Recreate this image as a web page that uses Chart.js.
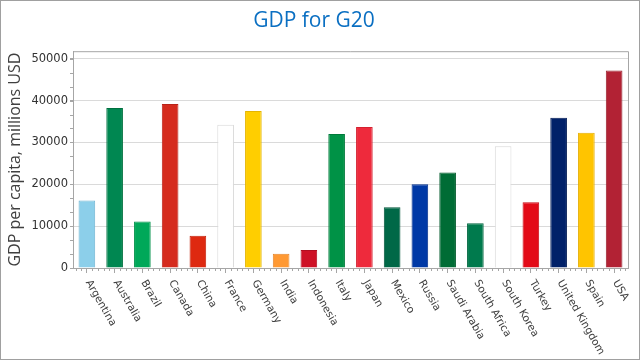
<!DOCTYPE html>
<html>
<head>
<meta charset="utf-8">
<script src="https://cdn.jsdelivr.net/npm/chart.js@4"></script>
<style>
  html, body { margin: 0; padding: 0; background: #fff; }
</style>
</head>
<body>
<canvas id="Chart_GDP" width="640" height="360"></canvas>
<script>
// données
const countries = ['Argentina', 'Australia', 'Brazil', 'Canada', 'China', 'France', 'Germany', 'India',
    'Indonesia', 'Italy', 'Japan', 'Mexico', 'Russia', 'Saudi Arabia', 'South Africa', 'South Korea',
    'Turkey', 'United Kingdom', 'Spain', 'USA'];
const gdpPerCapita = [16100, 38200, 11100, 39200, 7700, 34200, 37500, 3400, 4300, 32000,
    33700, 14500, 20000, 22800, 10700, 29100, 15700, 35900, 32300, 47200];
const yTicks = [0, 10000, 20000, 30000, 40000, 50000];

// couleurs des barres
const fillColors = ['#8ccfea', '#008751', '#00a859', '#d52b1e', '#de2910', '#ffffff', '#ffce00', '#ff9933',
    '#ce1126', '#009246', '#ee2a3c', '#006847', '#0039a6', '#006c35', '#007a4d', '#ffffff',
    '#e30a17', '#012169', '#ffc400', '#b22234'];
const lineColors = ['#6fb3d2', '#00703f', '#009049', '#b92318', '#c2230d', '#d9d9d9', '#e5b500', '#e5852a',
    '#b00e20', '#007a3a', '#d4202f', '#00553a', '#002f8c', '#00592b', '#00663f', '#d9d9d9',
    '#c80812', '#011a55', '#e5ae00', '#98202d'];

const axisGray = '#a6a6a6';
const labelFont = 'DejaVu Sans';

// ticks secondaires + libellés inclinés + cadre
const decorPlugin = {
    id: 'decor',
    afterDraw(chart) {
        const ctx = chart.ctx;
        const area = chart.chartArea;
        const x = chart.scales.x;
        const y = chart.scales.y;
        ctx.save();
        ctx.strokeStyle = axisGray;
        ctx.lineWidth = 1;
        // cadre du graphe (haut et droite)
        ctx.beginPath();
        ctx.moveTo(area.left, area.top + 0.5);
        ctx.lineTo(area.right + 0.5, area.top + 0.5);
        ctx.lineTo(area.right + 0.5, area.bottom);
        ctx.stroke();
        // ticks secondaires Y
        ctx.beginPath();
        for (let v = 0; v <= y.max; v += 10000 / 3) {
            const py = Math.round(y.getPixelForValue(v)) + 0.5;
            ctx.moveTo(area.left - 3, py);
            ctx.lineTo(area.left, py);
        }
        // ticks secondaires X
        const step = x.getPixelForValue(1) - x.getPixelForValue(0);
        for (let i = -1; i < countries.length; i++) {
            for (let k = 1; k < 5; k++) {
                const px = x.getPixelForValue(i) + step * k / 5;
                if (px < area.left || px > area.right) continue;
                ctx.moveTo(Math.round(px) + 0.5, area.bottom);
                ctx.lineTo(Math.round(px) + 0.5, area.bottom + 3);
            }
        }
        ctx.stroke();
        // libellés X
        ctx.fillStyle = '#404040';
        ctx.font = '10.5px "' + labelFont + '"';
        ctx.textAlign = 'left';
        ctx.textBaseline = 'middle';
        countries.forEach((c, i) => {
            ctx.save();
            ctx.translate(x.getPixelForValue(i) + 1, area.bottom + 13);
            ctx.rotate(Math.PI / 3);
            ctx.fillText(c, 0, 0);
            ctx.restore();
        });
        // bordure extérieure
        ctx.strokeStyle = '#a0a0a0';
        ctx.strokeRect(0.5, 0.5, chart.width - 1, chart.height - 1);
        ctx.restore();
    }
};

const GdpChart = new Chart(document.getElementById('Chart_GDP').getContext('2d'), {
    type: 'bar',
    data: {
        labels: countries,
        datasets: [{
            label: 'GDP per capita',
            data: gdpPerCapita,
            backgroundColor: fillColors,
            borderColor: lineColors,
            borderWidth: 1,
            borderSkipped: 'bottom',
            categoryPercentage: 1,
            barPercentage: 0.6
        }]
    },
    options: {
        responsive: false,
        animation: false,
        layout: { padding: { left: 0, right: 12, top: 0, bottom: 0 } },
        plugins: {
            legend: { display: false },
            tooltip: { enabled: false },
            title: {
                display: true,
                text: 'GDP for G20',
                color: '#0a6fc2',
                font: { family: 'Open Sans', size: 21, weight: 'normal' },
                padding: { top: 8, bottom: 18 }
            }
        },
        scales: {
            x: {
                grid: { offset: false, drawOnChartArea: false, tickLength: 5, color: axisGray },
                border: { color: axisGray },
                ticks: { display: false },
                afterFit: s => { s.height = 92; }
            },
            y: {
                min: 0,
                max: 51800,
                afterBuildTicks: s => { s.ticks = yTicks.map(v => ({ value: v })); },
                grid: { color: '#dadada', tickLength: 3, tickColor: axisGray },
                border: { color: axisGray },
                ticks: {
                    color: '#333333',
                    padding: 2,
                    font: { family: labelFont, size: 11.5 },
                    callback: v => String(v)
                },
                title: {
                    display: true,
                    text: 'GDP per capita, millions USD',
                    color: '#404040',
                    font: { family: 'Open Sans', size: 16 },
                    padding: { top: 6, bottom: 0 }
                },
                afterFit: s => { s.width = 73; }
            }
        }
    },
    plugins: [decorPlugin]
});
</script>
</body>
</html>
